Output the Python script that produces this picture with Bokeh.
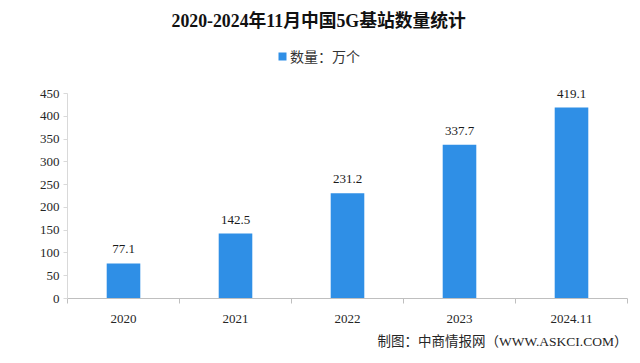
from bokeh.plotting import figure
from bokeh.models import (Range1d, FixedTicker, ColumnDataSource, Legend, LegendItem,
                          Title, LabelSet)
from bokeh.embed import file_html
from bokeh.resources import INLINE

categories = ["2020", "2021", "2022", "2023", "2024.11"]
counts = [77.1, 142.5, 231.2, 337.7, 419.1]
y_ticks = [0, 50, 100, 150, 200, 250, 300, 350, 400, 450]
series_name = "数量：万个"
title_text = "2020-2024年11月中国5G基站数量统计"
source_text = "制图：中商情报网（WWW.ASKCI.COM）"

BAR = "#2F8FE6"
NUM_FONT = "'Liberation Serif', 'Noto Sans CJK SC'"
CJK_FONT = "'Noto Sans CJK SC'"

n = len(categories)
xs = [i + 0.5 for i in range(n)]
src = ColumnDataSource(dict(x=xs, top=counts, label=[f"{v:.1f}" for v in counts]))

# frame extends above the axis maximum to host the legend; axis is bounded at max tick
axis_px = 205.0           # pixel height of the 0..max axis
frame_px = 268.0          # pixel height of the frame
y_top = y_ticks[-1] * frame_px / axis_px

p = figure(width=632, height=363, output_backend="svg", toolbar_location=None,
           x_range=Range1d(0, n), y_range=Range1d(0, y_top),
           min_border_left=67, min_border_right=5, min_border_top=30, min_border_bottom=65)

p.title.text = title_text
p.title.align = "left"
p.title.offset = 104
p.title.standoff = 0
p.title.text_font = NUM_FONT
p.title.text_font_size = "17.8px"
p.title.text_font_style = "bold"
p.title.text_color = "#111111"

bars = p.vbar(x="x", top="top", width=0.3, source=src, fill_color=BAR, line_color=None)

labels = LabelSet(x="x", y="top", text="label", source=src, text_align="center",
                  text_baseline="bottom", y_offset=10, text_font_size="13px",
                  text_font=NUM_FONT, text_color="#1a1a1a")
p.add_layout(labels)

legend = Legend(items=[LegendItem(label=series_name, renderers=[bars])],
                orientation="horizontal", location=(210, 232),
                label_text_font=CJK_FONT, label_text_font_size="14px",
                label_text_color="#333333", glyph_width=10, glyph_height=10,
                border_line_color=None, background_fill_alpha=0, padding=0, margin=0,
                label_standoff=3)
p.add_layout(legend)

p.xgrid.grid_line_color = None
p.ygrid.grid_line_color = None
p.outline_line_color = None

xa = p.xaxis[0]
xa.ticker = FixedTicker(ticks=xs, minor_ticks=list(range(n + 1)))
xa.major_label_overrides = {x: c for x, c in zip(xs, categories)}
xa.major_tick_line_color = None
xa.major_tick_out = 0
xa.major_tick_in = 0
xa.minor_tick_line_color = "#bfbfbf"
xa.minor_tick_out = 5
xa.minor_tick_in = 0
xa.axis_line_color = "#bfbfbf"
xa.major_label_text_font = NUM_FONT
xa.major_label_text_font_size = "13px"
xa.major_label_text_color = "#262626"
xa.major_label_standoff = 11

ya = p.yaxis[0]
ya.ticker = FixedTicker(ticks=y_ticks)
ya.bounds = (0, y_ticks[-1])
ya.major_tick_line_color = "#d9d9d9"
ya.major_tick_out = 4
ya.major_tick_in = 0
ya.minor_tick_line_color = None
ya.axis_line_color = "#d9d9d9"
ya.major_label_text_font = NUM_FONT
ya.major_label_text_font_size = "13px"
ya.major_label_text_color = "#262626"
ya.major_label_standoff = 4

foot = Title(text=source_text, align="right", text_font=NUM_FONT, text_font_size="13.5px",
             text_font_style="normal", text_color="#262626", standoff=12, offset=0)
p.add_layout(foot, "below")

open("out.html", "w").write(file_html(p, INLINE))
